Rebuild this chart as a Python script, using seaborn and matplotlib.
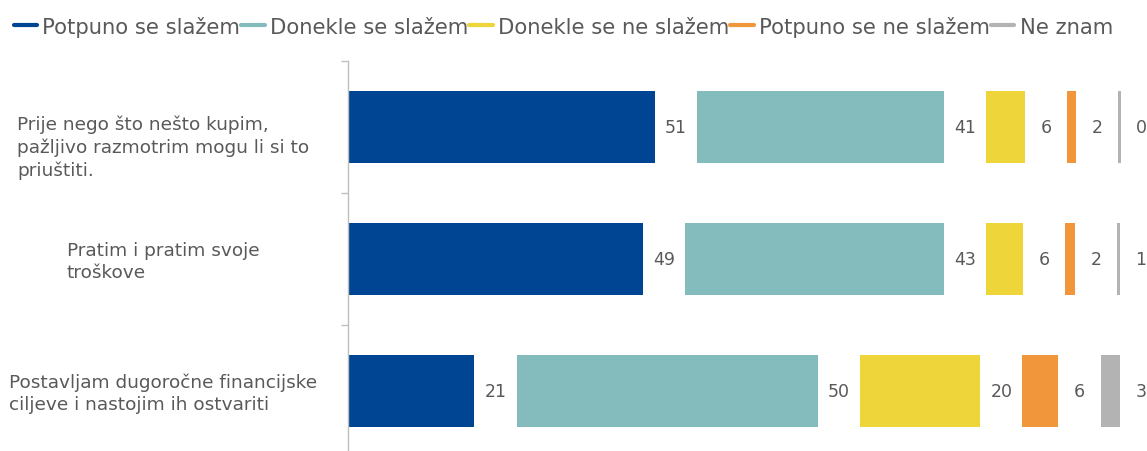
import matplotlib

matplotlib.use("Agg")
import matplotlib.pyplot as plt
from matplotlib.lines import Line2D
import numpy as np
import pandas as pd
import seaborn as sns

# statements (top to bottom)
statements = [
    "Prije nego što nešto kupim,\npažljivo razmotrim mogu li si to\npriuštiti.",
    "Pratim i pratim svoje\ntroškove",
    "Postavljam dugoročne financijske\nciljeve i nastojim ih ostvariti",
]
answers = ["Potpuno se slažem", "Donekle se slažem", "Donekle se ne slažem",
           "Potpuno se ne slažem", "Ne znam"]
colors = ["#004494", "#84BBBD", "#EDD53A", "#F1963A", "#B3B3B3"]

# bar lengths (per answer, one value per statement)
potpuno_da = [51, 49, 21]
donekle_da = [41, 43, 50]
donekle_ne = [6.4, 6.1, 20]
potpuno_ne = [1.5, 1.7, 6]
ne_znam = [0.4, 0.4, 3.2]
# printed labels
shown = [[51, 49, 21], [41, 43, 50], [6, 6, 20], [2, 2, 6], [0, 1, 3]]

GAP = 7.0  # space left after each segment for its label
TXT = "#595959"

sns.set_theme(style="white")
plt.rcParams["font.family"] = ["DejaVu Sans"]

fig = plt.figure(figsize=(11.47, 4.52), dpi=100)
ax = fig.add_axes([348 / 1147, -6 / 452, 1 - 348 / 1147, 396 / 452])

series = [potpuno_da, donekle_da, donekle_ne, potpuno_ne, ne_znam]
left = np.zeros(len(statements))
for vals, lab, name, col in zip(series, shown, answers, colors):
    vals = np.asarray(vals, dtype=float)
    df = pd.DataFrame({"statement": statements, "value": vals})
    sns.barplot(data=df, y="statement", x="value", order=statements, color=col,
                width=0.55, left=left, linewidth=0, saturation=1, ax=ax)
    for i, (v, t) in enumerate(zip(vals, lab)):
        ax.text(left[i] + v + GAP / 2, i, str(t), ha="center", va="center",
                fontsize=12.5, color=TXT)
    left = left + vals + GAP

ax.set_xlim(0, 132.7)
ax.set_ylim(2.5, -0.5)
ax.set_xlabel("")
ax.set_ylabel("")
ax.set_xticks([])
ax.set_yticks(range(len(statements)))
ax.set_yticklabels([])
ax.tick_params(axis="y", which="major", length=0)
ax.set_yticks([-0.5, 0.5, 1.5, 2.5], minor=True)
ax.tick_params(axis="y", which="minor", left=True, length=5, width=1,
               color="#BFBFBF", direction="out")

# category labels: block centred left of the axis, lines left-aligned
# (the first one sits a bit lower in the original)
label_shift = [-20, -2, -2]
for i, (s, dy) in enumerate(zip(statements, label_shift)):
    ax.annotate(s, xy=(0, i), xycoords=("axes fraction", "data"),
                xytext=(-185, dy), textcoords="offset pixels",
                ha="center", va="center", multialignment="left",
                fontsize=13.3, color=TXT, linespacing=1.3)

for s in ["top", "right", "bottom"]:
    ax.spines[s].set_visible(False)
ax.spines["left"].set_color("#BFBFBF")
ax.spines["left"].set_linewidth(1)

handles = [Line2D([], [], color=c, lw=3) for c in colors]
fig.legend(handles, answers, loc="center left", bbox_to_anchor=(0.012, 0.94),
           ncol=5, frameon=False, fontsize=15.2, handlelength=1.1,
           handletextpad=0.25, columnspacing=0.06, labelcolor=TXT,
           borderpad=0, borderaxespad=0)

fig.savefig("out.png", dpi=100)
